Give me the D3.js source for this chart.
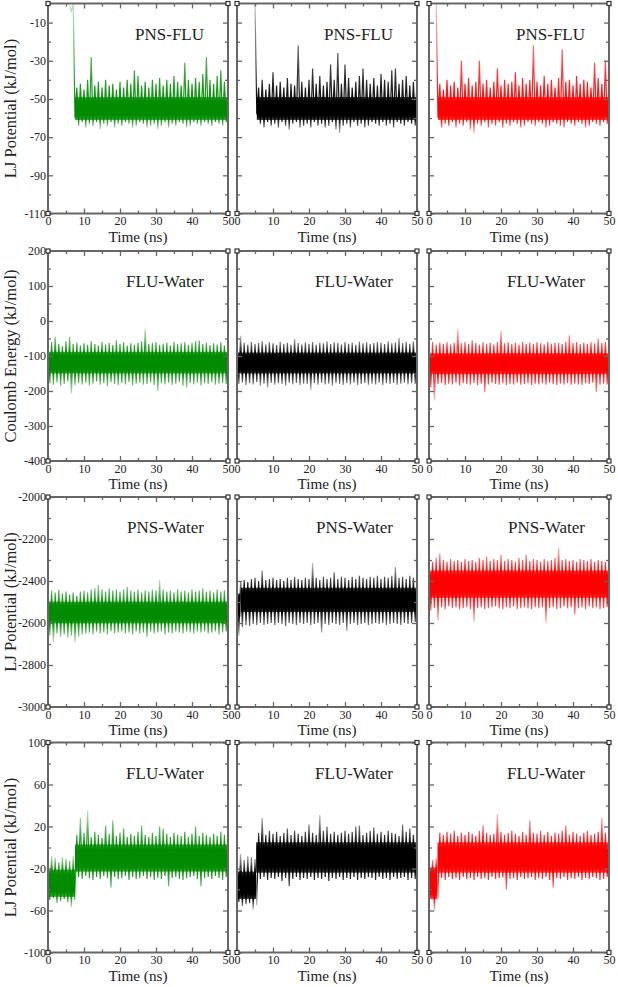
<!DOCTYPE html>
<meta charset="utf-8">
<style>
body{margin:0;background:#fff;}
text{font-family:"Liberation Serif","Times New Roman",serif;fill:#222;}
.tick text{font-size:12px;}
.title{font-size:17px;text-anchor:end;}
.xlab{font-size:15.5px;text-anchor:middle;}
.ylab{font-size:16.5px;text-anchor:middle;}
.frame{fill:none;stroke:#666;stroke-width:2;}
.tick line{stroke:#666;stroke-width:1.3;}
</style>
<body>
<script src="https://d3js.org/d3.v7.min.js"></script>
<script>

// time axis (ns), one reading per ns: max (hi) and min (lo) of the trace
var timeNs = [0,1,2,3,4,5,6,7,8,9,10,11,12,13,14,15,16,17,18,19,20,21,22,23,24,25,26,27,28,29,30,31,32,33,34,35,36,37,38,39,40,41,42,43,44,45,46,47,48,49,50];

var xMajor = [0,10,20,30,40,50];
var xMinor = [5,15,25,35,45];

// row 1 : LJ potential PNS-FLU
var pnsFluMajor = [-110,-90,-70,-50,-30,-10];
var pnsFluMinor = [-100,-80,-60,-40,-20,0];
var pnsFlu1Hi = [null,null,null,null,null,null,-1,0,-44,-42,
  -45,-40,-28,-43,-41,-44,-40,-43,-42,-45,
  -41,-44,-40,-42,-35,-38,-43,-41,-44,-40,
  -42,-39,-43,-40,-42,-38,-41,-43,-31,-40,
  -42,-39,-41,-37,-28,-40,-42,-38,-35,-41,
  -43];
var pnsFlu1Lo = [null,null,null,null,null,null,-4,-60,-64,-62,
  -65,-63,-64,-62,-66,-63,-64,-62,-65,-63,
  -64,-62,-63,-65,-64,-62,-63,-65,-64,-63,
  -66,-64,-62,-65,-63,-64,-62,-63,-65,-64,
  -62,-63,-64,-62,-63,-64,-62,-63,-64,-62,
  -63];
var pnsFlu1Core = [[7.5,50,-49,-61]];
var pnsFlu2Hi = [null,null,null,null,null,0,-44,-40,-45,-42,
  -36,-43,-41,-44,-39,-42,-43,-22,-41,-44,
  -40,-34,-42,-38,-43,-41,-32,-40,-26,-42,
  -32,-39,-44,-41,-38,-34,-40,-42,-39,-43,
  -37,-40,-41,-35,-34,-42,-40,-38,-43,-41,
  -40];
var pnsFlu2Lo = [null,null,null,null,null,-58,-63,-65,-62,-64,
  -63,-65,-62,-64,-66,-63,-62,-65,-64,-63,
  -65,-62,-64,-63,-65,-64,-62,-66,-68,-64,
  -63,-65,-62,-64,-63,-65,-64,-62,-63,-64,
  -62,-64,-63,-65,-62,-63,-64,-62,-63,-64,
  -63];
var pnsFlu2Core = [[5.5,50,-49,-61]];
var pnsFlu3Hi = [null,null,0,-42,-45,-40,-43,-41,-44,-30,
  -42,-39,-43,-41,-30,-42,-40,-44,-41,-34,
  -43,-40,-42,-41,-36,-43,-39,-42,-40,-22,
  -41,-43,-38,-42,-40,-44,-39,-24,-41,-40,
  -43,-38,-42,-40,-41,-44,-31,-39,-42,-30,
  -41];
var pnsFlu3Lo = [null,null,-60,-65,-63,-64,-62,-65,-63,-64,
  -62,-66,-68,-63,-64,-62,-65,-63,-64,-62,
  -65,-63,-64,-62,-63,-65,-64,-62,-63,-64,
  -62,-63,-65,-64,-62,-63,-64,-65,-62,-63,
  -64,-62,-63,-65,-64,-62,-63,-64,-62,-63,
  -64];
var pnsFlu3Core = [[2.5,50,-49,-61]];

// row 2 : Coulomb energy FLU-Water
var coulMajor = [-400,-300,-200,-100,0,100,200];
var coulMinor = [-350,-250,-150,-50,50,150];
var coul1Hi = [-70,-60,-45,-65,-72,-58,-46,-66,-62,-70,
  -64,-68,-58,-66,-71,-60,-67,-63,-69,-55,
  -66,-61,-70,-64,-68,-62,-58,-22,-66,-63,
  -60,-68,-65,-62,-70,-60,-66,-64,-61,-68,
  -63,-58,-55,-66,-62,-69,-64,-67,-61,-70,
  -75];
var coul1Lo = [-178,-182,-175,-185,-180,-172,-208,-183,-177,-181,
  -176,-184,-179,-173,-182,-178,-186,-175,-180,-183,
  -177,-181,-174,-184,-179,-176,-182,-180,-175,-183,
  -200,-178,-181,-176,-183,-179,-174,-185,-190,-177,
  -181,-176,-184,-178,-180,-175,-182,-179,-177,-180,
  -176];
var coul1Core = [[0,50,-88,-150]];
var coul2Hi = [-65,-42,-62,-68,-60,-66,-63,-58,-67,-61,
  -64,-69,-60,-66,-62,-68,-52,-63,-67,-61,
  -65,-60,-68,-62,-64,-59,-66,-61,-63,-67,
  -60,-65,-62,-68,-59,-64,-61,-66,-63,-60,
  -62,-66,-58,-64,-61,-48,-63,-60,-65,-58,
  -62];
var coul2Lo = [-180,-176,-183,-178,-181,-175,-184,-179,-190,-177,
  -182,-178,-180,-185,-176,-181,-177,-183,-179,-180,
  -198,-178,-182,-176,-181,-179,-184,-177,-180,-183,
  -178,-181,-176,-183,-180,-177,-182,-179,-181,-176,
  -183,-178,-180,-177,-182,-179,-176,-181,-178,-180,
  -177];
var coul2Core = [[0,50,-90,-150]];
var coul3Hi = [-66,-60,-68,-62,-65,-61,-67,-63,-22,-64,
  -60,-66,-55,-63,-68,-61,-65,-62,-67,-60,
  -27,-64,-61,-66,-63,-68,-60,-65,-62,-66,
  -61,-64,-67,-60,-65,-62,-63,-66,-60,-41,
  -63,-60,-66,-62,-65,-61,-64,-50,-63,-60,
  -65];
var coul3Lo = [-190,-227,-180,-177,-183,-179,-181,-176,-184,-178,
  -180,-182,-177,-183,-179,-203,-181,-176,-180,-182,
  -178,-183,-179,-181,-176,-182,-180,-177,-183,-179,
  -181,-178,-182,-176,-180,-183,-179,-181,-177,-182,
  -179,-181,-183,-178,-180,-176,-203,-182,-179,-181,
  -178];
var coul3Core = [[0,50,-92,-152]];

// row 3 : LJ potential PNS-Water
var pnsWatMajor = [-3000,-2800,-2600,-2400,-2200,-2000];
var pnsWatMinor = [-2900,-2700,-2500,-2300,-2100];
var pnsWat1Hi = [-2420,-2445,-2455,-2440,-2460,-2450,-2465,-2455,-2470,-2450,
  -2445,-2455,-2440,-2435,-2419,-2440,-2450,-2435,-2445,-2440,
  -2450,-2440,-2427,-2445,-2450,-2440,-2455,-2445,-2450,-2440,
  -2445,-2395,-2440,-2450,-2445,-2455,-2440,-2450,-2445,-2455,
  -2440,-2450,-2445,-2435,-2450,-2445,-2455,-2440,-2450,-2445,
  -2450];
var pnsWat1Lo = [-2660,-2690,-2650,-2665,-2655,-2670,-2660,-2693,-2665,-2655,
  -2650,-2645,-2655,-2640,-2650,-2645,-2655,-2640,-2650,-2645,
  -2640,-2650,-2645,-2655,-2640,-2650,-2645,-2666,-2640,-2650,
  -2645,-2640,-2655,-2645,-2650,-2640,-2645,-2650,-2640,-2645,
  -2650,-2640,-2645,-2640,-2650,-2645,-2640,-2655,-2645,-2640,
  -2645];
var pnsWat1Core = [[0,50,-2498,-2602]];
var pnsWat2Hi = [-2440,-2400,-2395,-2405,-2390,-2385,-2400,-2350,-2395,-2390,
  -2385,-2395,-2390,-2400,-2385,-2395,-2380,-2390,-2395,-2385,
  -2390,-2314,-2385,-2395,-2380,-2390,-2385,-2358,-2390,-2380,
  -2385,-2395,-2380,-2390,-2375,-2385,-2390,-2380,-2385,-2375,
  -2390,-2380,-2385,-2375,-2334,-2385,-2380,-2390,-2375,-2385,
  -2390];
var pnsWat2Lo = [-2661,-2620,-2610,-2615,-2605,-2610,-2600,-2610,-2605,-2600,
  -2610,-2600,-2605,-2615,-2600,-2605,-2610,-2600,-2605,-2600,
  -2610,-2605,-2600,-2645,-2605,-2610,-2600,-2605,-2610,-2600,
  -2637,-2605,-2600,-2610,-2605,-2600,-2610,-2605,-2600,-2605,
  -2600,-2610,-2605,-2600,-2605,-2610,-2600,-2605,-2600,-2595,
  -2600];
var pnsWat2Core = [[0,1,-2460,-2570],[1,50,-2432,-2548]];
var pnsWat3Hi = [-2330,-2310,-2290,-2268,-2300,-2310,-2295,-2305,-2300,-2310,
  -2295,-2305,-2300,-2310,-2290,-2300,-2283,-2305,-2295,-2300,
  -2275,-2305,-2295,-2300,-2310,-2290,-2300,-2275,-2305,-2295,
  -2300,-2310,-2295,-2305,-2300,-2290,-2240,-2300,-2295,-2305,
  -2300,-2310,-2295,-2300,-2305,-2295,-2310,-2300,-2305,-2310,
  -2300];
var pnsWat3Lo = [-2540,-2530,-2586,-2525,-2535,-2520,-2530,-2525,-2535,-2530,
  -2525,-2535,-2594,-2530,-2525,-2535,-2530,-2525,-2520,-2530,
  -2535,-2525,-2530,-2520,-2535,-2530,-2525,-2530,-2535,-2525,
  -2530,-2525,-2602,-2530,-2525,-2535,-2530,-2520,-2530,-2525,
  -2560,-2530,-2525,-2535,-2520,-2530,-2525,-2535,-2530,-2525,
  -2530];
var pnsWat3Core = [[0,50,-2350,-2480]];

// row 4 : LJ potential FLU-Water
var fluLjMajor = [-100,-60,-20,20,60,100];
var fluLjMinor = [-80,-40,0,40,80];
var fluLj1Hi = [-12,-8,-10,-14,-9,-11,-13,-8,12,28,
  14,35,10,15,12,9,21,13,26,11,
  14,18,10,13,11,15,21,12,10,14,
  11,20,18,13,10,14,12,11,15,10,
  13,20,11,14,12,10,13,11,15,12,
  10];
var fluLj1Lo = [-50,-48,-53,-51,-49,-52,-57,-50,-28,-30,
  -27,-29,-31,-28,-30,-27,-29,-38,-28,-30,
  -29,-27,-31,-28,-30,-29,-27,-30,-28,-31,
  -29,-30,-27,-37,-29,-28,-30,-31,-29,-28,
  -27,-30,-37,-29,-28,-30,-27,-29,-31,-28,
  -30];
var fluLj1Core = [[0,7.5,-21,-47],[7.5,50,3,-23]];
var fluLj2Hi = [-10,-6,-12,-8,-9,-11,14,28,12,16,
  13,15,11,14,18,12,16,13,11,15,
  22,14,12,31,16,20,13,15,12,14,
  16,13,15,20,21,12,14,16,19,13,
  15,12,16,14,13,11,22,15,18,12,
  16];
var fluLj2Lo = [-52,-56,-54,-53,-59,-55,-30,-28,-31,-29,
  -30,-28,-32,-29,-37,-30,-28,-31,-29,-30,
  -28,-31,-29,-30,-28,-32,-29,-30,-28,-31,
  -29,-30,-28,-31,-29,-30,-28,-29,-31,-28,
  -30,-29,-31,-28,-30,-29,-28,-31,-29,-30,
  -28];
var fluLj2Core = [[0,5.3,-23,-49],[5.3,50,5,-24]];
var fluLj3Hi = [-8,-12,-10,14,12,15,13,16,11,14,
  12,15,13,11,16,21,14,12,13,32,
  15,12,14,16,13,11,15,12,26,14,
  13,16,12,15,11,14,13,16,21,12,
  15,13,11,14,16,12,13,15,28,14,
  12];
var fluLj3Lo = [-45,-60,-50,-29,-31,-28,-30,-29,-31,-28,
  -30,-29,-31,-28,-30,-29,-31,-28,-30,-29,
  -28,-40,-30,-29,-31,-28,-30,-29,-28,-31,
  -29,-30,-28,-31,-38,-29,-30,-28,-31,-29,
  -30,-28,-31,-29,-30,-28,-29,-31,-30,-28,
  -30];
var fluLj3Core = [[0,2.3,-19,-49],[2.3,50,5,-24]];

var colColors = ["#008b00","#000000","#ff0000"];

var rows = [
  {title:"PNS-FLU", ylabel:"LJ Potential (kJ/mol)", domain:[-110,0], major:pnsFluMajor, minor:pnsFluMinor,
   hi:[pnsFlu1Hi,pnsFlu2Hi,pnsFlu3Hi], lo:[pnsFlu1Lo,pnsFlu2Lo,pnsFlu3Lo], core:[pnsFlu1Core,pnsFlu2Core,pnsFlu3Core]},
  {title:"FLU-Water", ylabel:"Coulomb Energy (kJ/mol)", domain:[-400,200], major:coulMajor, minor:coulMinor,
   hi:[coul1Hi,coul2Hi,coul3Hi], lo:[coul1Lo,coul2Lo,coul3Lo], core:[coul1Core,coul2Core,coul3Core]},
  {title:"PNS-Water", ylabel:"LJ Potential (kJ/mol)", domain:[-3000,-2000], major:pnsWatMajor, minor:pnsWatMinor,
   hi:[pnsWat1Hi,pnsWat2Hi,pnsWat3Hi], lo:[pnsWat1Lo,pnsWat2Lo,pnsWat3Lo], core:[pnsWat1Core,pnsWat2Core,pnsWat3Core]},
  {title:"FLU-Water", ylabel:"LJ Potential (kJ/mol)", domain:[-100,100], major:fluLjMajor, minor:fluLjMinor,
   hi:[fluLj1Hi,fluLj2Hi,fluLj3Hi], lo:[fluLj1Lo,fluLj2Lo,fluLj3Lo], core:[fluLj1Core,fluLj2Core,fluLj3Core]}
];

// layout
var colLeft = [48,237,429], rowTop = [3.5,251,497,742.5];
var pw = 180, ph = 210;

var svg = d3.select("body").append("svg").attr("width",618).attr("height",987);
var defs = svg.append("defs");
var fmt = function(d){ return String(d); };

function addGradient(id,color,y1,y2,stops){
  var gr = defs.append("linearGradient").attr("id",id).attr("gradientUnits","userSpaceOnUse")
    .attr("x1",0).attr("x2",0).attr("y1",y1).attr("y2",y2);
  stops.forEach(function(st){
    gr.append("stop").attr("offset",Math.max(0,Math.min(1,st[0]))).attr("stop-color",color).attr("stop-opacity",st[1]);
  });
}

rows.forEach(function(row,ri){
  [0,1,2].forEach(function(ci){
    var g = svg.append("g").attr("transform","translate("+colLeft[ci]+","+rowTop[ri]+")");
    var x = d3.scaleLinear().domain([0,50]).range([0,pw]);
    var y = d3.scaleLinear().domain(row.domain).range([ph,0]);
    var color = colColors[ci];
    var hi = row.hi[ci], lo = row.lo[ci], core = row.core[ci];

    var pts = [];
    timeNs.forEach(function(t,i){
      pts.push([t,hi[i]]);
      pts.push([t+0.5,lo[i]]);
    });
    var line = d3.line().defined(d=>d[1]!=null).x(d=>x(d[0])).y(d=>y(d[1]));

    var plot = g.append("g");
    core.forEach(function(s,k){
      var id = "p"+ri+ci+"_"+k;
      var t0 = k==0 ? 0 : s[0], t1 = s[1];
      // clip each phase of the run to its own time window
      defs.append("clipPath").attr("id","c"+id).append("rect")
        .attr("x",x(t0)).attr("y",0).attr("width",x(t1)-x(t0)).attr("height",ph);
      var inWin = timeNs.map((t,i)=>i).filter(i=>timeNs[i]>=t0-1 && timeNs[i]<=t1);
      var yTop = y(Math.min(d3.max(inWin,i=>hi[i]),row.domain[1])), yBot = y(d3.min(inWin,i=>lo[i]));
      var yc0 = y(s[2]), yc1 = y(s[3]), span = yBot-yTop;
      // fringe fades out away from the dense core
      addGradient("g"+id,color,yTop,yBot,
        [[0,0.25],[(yc0-yTop)/span,0.95],[(yc1-yTop)/span,0.95],[1,0.25]]);
      // core is densest in the middle, a little softer at its edges
      addGradient("f"+id,color,yc0,yc1,
        [[0,0.75],[0.2,1],[0.8,1],[1,0.75]]);
      var seg = plot.append("g").attr("clip-path","url(#c"+id+")");
      seg.append("rect").attr("x",x(s[0])).attr("width",x(s[1])-x(s[0]))
        .attr("y",yc0).attr("height",yc1-yc0).attr("fill","url(#f"+id+")");
      seg.append("path").attr("fill","none").attr("stroke","url(#g"+id+")").attr("stroke-width",1.2)
        .attr("d",line(pts));
    });

    // axes, ticks pointing inward on all four sides
    g.append("g").call(d3.axisLeft(y).tickValues(row.major).tickSize(-5).tickSizeOuter(0).tickPadding(2)
      .tickFormat(ci==0 ? fmt : ""));
    g.append("g").call(d3.axisLeft(y).tickValues(row.minor).tickSize(-3).tickSizeOuter(0).tickFormat(""));
    g.append("g").attr("transform","translate("+pw+",0)").call(d3.axisRight(y).tickValues(row.major).tickSize(-5).tickSizeOuter(0).tickFormat(""));
    g.append("g").attr("transform","translate("+pw+",0)").call(d3.axisRight(y).tickValues(row.minor).tickSize(-3).tickSizeOuter(0).tickFormat(""));
    g.append("g").attr("transform","translate(0,"+ph+")").call(d3.axisBottom(x).tickValues(xMajor).tickSize(-5).tickSizeOuter(0).tickPadding(3).tickFormat(fmt));
    g.append("g").attr("transform","translate(0,"+ph+")").call(d3.axisBottom(x).tickValues(xMinor).tickSize(-3).tickSizeOuter(0).tickFormat(""));
    g.append("g").call(d3.axisTop(x).tickValues(xMajor).tickSize(-5).tickSizeOuter(0).tickFormat(""));
    g.append("g").call(d3.axisTop(x).tickValues(xMinor).tickSize(-3).tickSizeOuter(0).tickFormat(""));
    g.selectAll(".domain").remove();
    g.selectAll(".tick text").attr("fill","#222");
    g.selectAll("g[font-family]").attr("font-family",null).attr("font-size",null);

    g.append("rect").attr("class","frame").attr("width",pw).attr("height",ph);
    [[0,0],[pw,0],[0,ph],[pw,ph]].forEach(function(c){
      g.append("rect").attr("x",c[0]-2).attr("y",c[1]-2).attr("width",4).attr("height",4)
        .attr("fill","#fff").attr("stroke","#333").attr("stroke-width",1.2);
    });

    g.append("text").attr("class","title").attr("x",pw-24).attr("y",36).text(row.title);
    g.append("text").attr("class","xlab").attr("x",pw/2).attr("y",ph+28)
      .attr("textLength",59).attr("lengthAdjust","spacingAndGlyphs").text("Time (ns)");
    if(ci==0){
      g.append("text").attr("class","ylab")
        .attr("transform","translate("+(-32)+","+(ph/2)+") rotate(-90)").text(row.ylabel);
    }
  });
});
</script>
</body>
</html>
